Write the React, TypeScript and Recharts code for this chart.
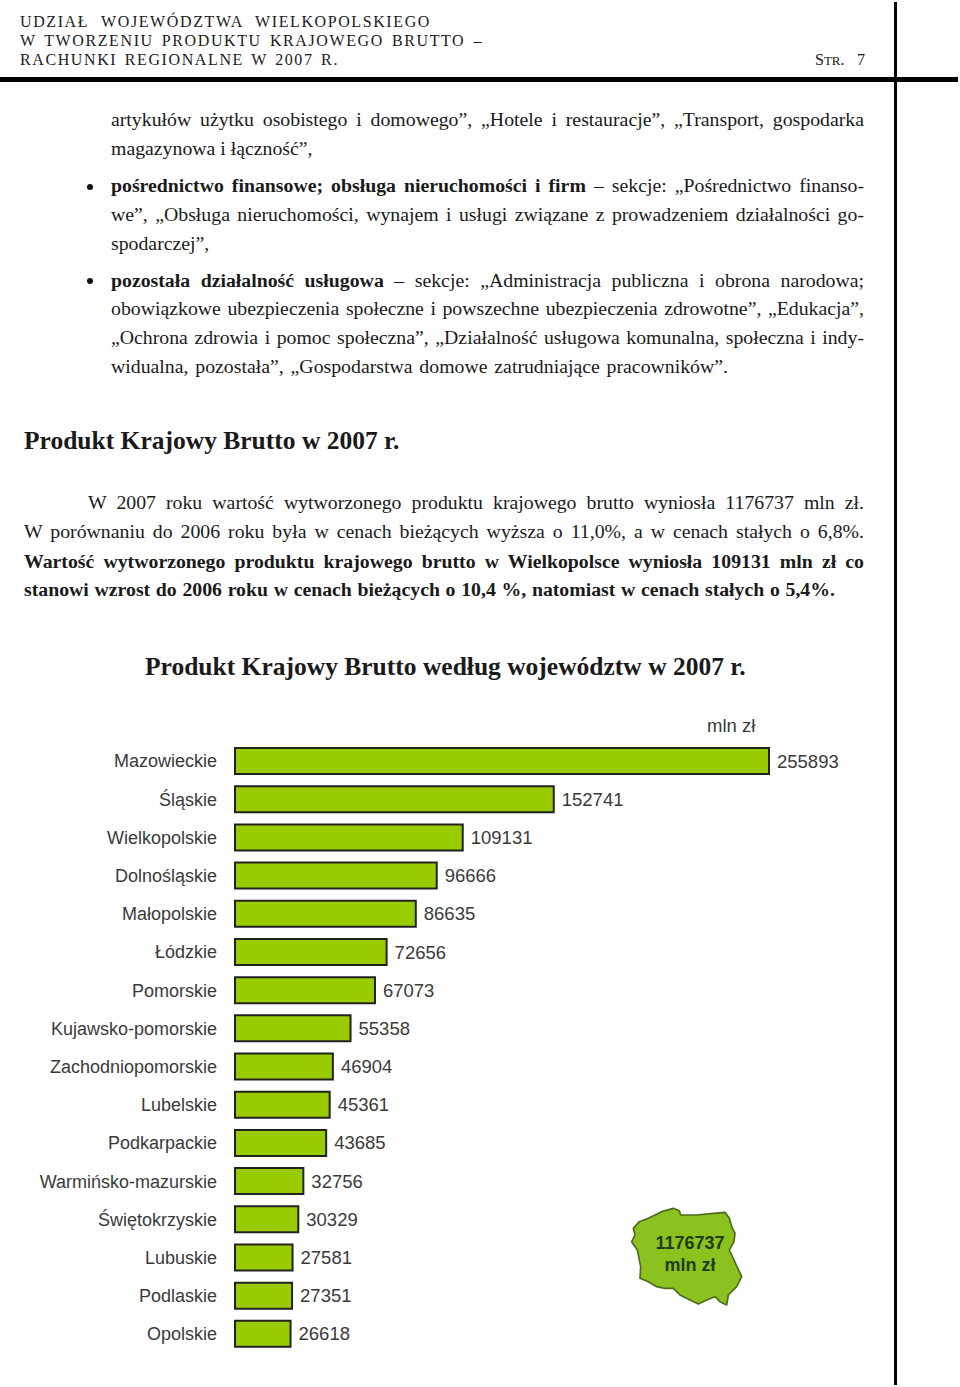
import React from 'react';
import { BarChart, Bar, XAxis, YAxis, LabelList } from 'recharts';

const voivodeships = [
  'Mazowieckie', 'Śląskie', 'Wielkopolskie', 'Dolnośląskie', 'Małopolskie', 'Łódzkie', 'Pomorskie', 'Kujawsko-pomorskie',
  'Zachodniopomorskie', 'Lubelskie', 'Podkarpackie', 'Warmińsko-mazurskie', 'Świętokrzyskie', 'Lubuskie', 'Podlaskie', 'Opolskie',
];
const gdpValues = [255893, 152741, 109131, 96666, 86635, 72656, 67073, 55358, 46904, 45361, 43685, 32756, 30329, 27581, 27351, 26618];

const data = voivodeships.map((name, i) => ({ name, value: gdpValues[i] }));

const SERIF = '"Liberation Serif", serif';
const SANS = '"Liberation Sans", Arial, sans-serif';

// x, width (none = left aligned, no justify), vertical centre, font size
const Line: React.FC<{ x: number; w?: number; y: number; size?: number; bold?: boolean; spacing?: number; children: React.ReactNode }> = ({
  x, w, y, size = 19.8, bold, spacing = 0, children,
}) => (
  <div
    style={{
      position: 'absolute',
      left: x,
      top: size === 19.8 ? y - 16 : y - 15,
      height: 30,
      lineHeight: '30px',
      width: w,
      fontFamily: SERIF,
      fontSize: size,
      fontWeight: bold ? 700 : 400,
      letterSpacing: spacing,
      color: '#1a1a1a',
      whiteSpace: w ? 'normal' : 'nowrap',
      textAlign: w ? 'justify' : 'left',
      textAlignLast: w ? 'justify' : 'left',
    }}
  >
    {children}
  </div>
);

const Bullet: React.FC<{ y: number }> = ({ y }) => (
  <div style={{ position: 'absolute', left: 87, top: y - 3, width: 6, height: 6, borderRadius: 3, background: '#111' }} />
);

const POLAND =
  '160,145 178,125 205,115 225,105 245,95 280,85 298,92 302,105 350,105 400,100 435,97 448,115 455,140 465,160 462,185 448,210 462,240 485,290 470,320 445,345 440,375 420,365 405,350 380,360 355,372 330,360 300,345 280,325 255,325 230,320 205,305 180,295 182,260 172,210 155,185 165,165';

export default function App() {
  return (
    <div style={{ position: 'absolute', left: 0, top: 0, width: 960, height: 1387, background: '#fff', overflow: 'hidden' }}>
      <Line x={20} w={411} y={22} size={16} spacing={1.6}>UDZIAŁ WOJEWÓDZTWA WIELKOPOLSKIEGO</Line>
      <Line x={20} w={463} y={41} size={16} spacing={1.6}>W TWORZENIU PRODUKTU KRAJOWEGO BRUTTO –</Line>
      <Line x={20} w={319} y={60} size={16} spacing={1.6}>RACHUNKI REGIONALNE W 2007 R.</Line>
      <Line x={815} w={50} y={60} size={16}>S<span style={{ fontSize: 13 }}>TR</span>. 7</Line>

      <div style={{ position: 'absolute', left: 0, top: 77, width: 958, height: 5, background: '#000' }} />
      <div style={{ position: 'absolute', left: 894, top: 2, width: 3, height: 1383, background: '#000' }} />

      <Line x={111} w={753} y={120}>artykułów użytku osobistego i domowego”, „Hotele i restauracje”, „Transport, gospodarka</Line>
      <Line x={111} y={149}>magazynowa i łączność”,</Line>

      <Bullet y={187} />
      <Line x={111} w={753} y={186}><b>pośrednictwo finansowe; obsługa nieruchomości i firm</b> – sekcje: „Pośrednictwo finanso-</Line>
      <Line x={111} w={753} y={215}>we”, „Obsługa nieruchomości, wynajem i usługi związane z prowadzeniem działalności go-</Line>
      <Line x={111} y={244}>spodarczej”,</Line>

      <Bullet y={281} />
      <Line x={111} w={753} y={281}><b>pozostała działalność usługowa</b> – sekcje: „Administracja publiczna i obrona narodowa;</Line>
      <Line x={111} w={753} y={309}>obowiązkowe ubezpieczenia społeczne i powszechne ubezpieczenia zdrowotne”, „Edukacja”,</Line>
      <Line x={111} w={753} y={338}>„Ochrona zdrowia i pomoc społeczna”, „Działalność usługowa komunalna, społeczna i indy-</Line>
      <Line x={111} w={617} y={367}>widualna, pozostała”, „Gospodarstwa domowe zatrudniające pracowników”.</Line>

      <Line x={24} y={441} size={25.5} bold>Produkt Krajowy Brutto w 2007 r.</Line>

      <Line x={88} w={776} y={503}>W 2007 roku wartość wytworzonego produktu krajowego brutto wyniosła 1176737 mln zł.</Line>
      <Line x={24} w={840} y={532}>W porównaniu do 2006 roku była w cenach bieżących wyższa o 11,0%, a w cenach stałych o 6,8%.</Line>
      <Line x={24} w={840} y={562} bold>Wartość wytworzonego produktu krajowego brutto w Wielkopolsce wyniosła 109131 mln zł co</Line>
      <Line x={24} w={811} y={590} bold>stanowi wzrost do 2006 roku w cenach bieżących o 10,4 %, natomiast w cenach stałych o 5,4%.</Line>

      <Line x={145} y={667} size={25.5} bold>Produkt Krajowy Brutto według województw w 2007 r.</Line>

      <div style={{ position: 'absolute', left: 0, top: 0 }}>
        <BarChart
          width={960}
          height={1387}
          data={data}
          layout="vertical"
          margin={{ top: 742, right: 191, bottom: 34, left: 0 }}
        >
          <XAxis type="number" hide domain={[0, 255893]} />
          <YAxis
            dataKey="name"
            type="category"
            width={235}
            interval={0}
            axisLine={false}
            tickLine={false}
            tickMargin={12}
            tick={{ fontFamily: SANS, fontSize: 18, fill: '#3a3a3a' }}
          />
          <Bar dataKey="value" fill="#99cc00" stroke="#222" strokeWidth={2} barSize={26} isAnimationActive={false}>
            <LabelList dataKey="value" position="right" offset={8} style={{ fontFamily: SANS, fontSize: 18.5, fill: '#3a3a3a' }} />
          </Bar>
        </BarChart>
      </div>

      <div style={{ position: 'absolute', left: 707, top: 714, fontFamily: SANS, fontSize: 18.5, color: '#3a3a3a', lineHeight: '24px' }}>mln zł</div>

      <svg style={{ position: 'absolute', left: 580, top: 1180 }} width={200} height={150} viewBox="0 0 600 450">
        <polygon points={POLAND} fill="#8cc21f" stroke="#4d6b1a" strokeWidth={5} strokeLinejoin="round" />
        <text x={330} y={207} textAnchor="middle" fontFamily={SANS} fontWeight={700} fontSize={54} fill="#1f3d14">1176737</text>
        <text x={330} y={273} textAnchor="middle" fontFamily={SANS} fontWeight={700} fontSize={54} fill="#1f3d14">mln zł</text>
      </svg>
    </div>
  );
}
